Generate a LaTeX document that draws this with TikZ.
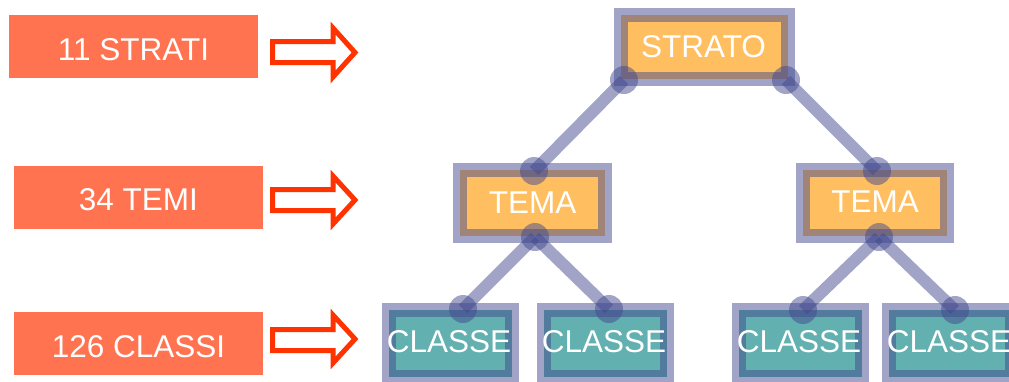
\documentclass[tikz,border=0pt]{standalone}
\usepackage{fontspec}
\setmainfont{Liberation Sans}
\definecolor{coral}{HTML}{FF7350}
\definecolor{arrred}{HTML}{FF3300}
\definecolor{boxorange}{HTML}{FFBF60}
\definecolor{boxteal}{HTML}{63B0B0}
\definecolor{linkpurple}{HTML}{434A8E}
\begin{document}
\begin{tikzpicture}[x=1pt,y=-1pt,
  lbl/.style={fill=coral,inner sep=0pt,minimum width=249pt,minimum height=63pt},
  blockarrow/.style={draw=arrred,fill=white,line width=5pt,line join=miter},
  treebox/.style={draw=linkpurple,draw opacity=0.5,line width=14pt,inner sep=0pt},
  orangebox/.style={treebox,fill=boxorange},
  tealbox/.style={treebox,fill=boxteal},
  txt/.style={text=white,inner sep=0pt,font=\fontsize{31.5}{36}\selectfont},
  link/.style={draw=linkpurple,draw opacity=0.5,line width=12pt},
  joint/.style={circle,fill=linkpurple,fill opacity=0.5,minimum size=28pt,inner sep=0pt}]
\useasboundingbox (0,0) rectangle (1009,381);
% left labels
\node[lbl] (l1) at (133,46) {};
\node[txt] (l1t) at (133.5,49.5) {11 STRATI};
\node[lbl] (l2) at (138.5,197.5) {};
\node[txt] (l2t) at (138.5,200) {34 TEMI};
\node[lbl] (l3) at (138.5,343.5) {};
\node[txt] (l3t) at (138.5,346.5) {126 CLASSI};
% block arrows
\draw[blockarrow] (272.5,41.5) -- (333,41.5) -- (333,28) -- (355,52.5) -- (333,77) -- (333,62.5) -- (272.5,62.5) -- cycle;
\draw[blockarrow] (272.5,189.5) -- (333,189.5) -- (333,176) -- (355,200) -- (333,224) -- (333,210.5) -- (272.5,210.5) -- cycle;
\draw[blockarrow] (272.5,329.5) -- (333,329.5) -- (333,315) -- (355,339) -- (333,363) -- (333,350.5) -- (272.5,350.5) -- cycle;
% tree boxes
\node[orangebox,minimum width=167pt,minimum height=64pt] (strato) at (704.5,47) {};
\node[txt] (stratot) at (703.5,46.5) {STRATO};
\node[orangebox,minimum width=145pt,minimum height=66pt] (temaL) at (532.5,203) {};
\node[txt] (temaLt) at (532.5,203) {TEMA};
\node[orangebox,minimum width=144pt,minimum height=66pt] (temaR) at (875,203) {};
\node[txt] (temaRt) at (875,202) {TEMA};
\node[tealbox,minimum width=123pt,minimum height=67pt] (c1) at (450.5,343.5) {};
\node[txt] (c1t) at (449,341.5) {CLASSE};
\node[tealbox,minimum width=123pt,minimum height=67pt] (c2) at (605.5,343.5) {};
\node[txt] (c2t) at (604,341.5) {CLASSE};
\node[tealbox,minimum width=123pt,minimum height=67pt] (c3) at (800.5,343.5) {};
\node[txt] (c3t) at (799,341.5) {CLASSE};
\node[tealbox,minimum width=123pt,minimum height=67pt] (c4) at (950.5,343.5) {};
\node[txt] (c4t) at (949,341.5) {CLASSE};
% joint positions
\coordinate (jSL) at (624,80);
\coordinate (jSR) at (786,80);
\coordinate (jTLt) at (534,171);
\coordinate (jTLb) at (535,237);
\coordinate (jTRt) at (877,171);
\coordinate (jTRb) at (879,237);
\coordinate (jC1) at (463,309);
\coordinate (jC2) at (609,309);
\coordinate (jC3) at (803,310);
\coordinate (jC4) at (955,310);
% links
\draw[link] (jSL) -- (jTLt);
\draw[link] (jSR) -- (jTRt);
\draw[link] (jTLb) -- (jC1);
\draw[link] (jTLb) -- (jC2);
\draw[link] (jTRb) -- (jC3);
\draw[link] (jTRb) -- (jC4);
% joints
\foreach \j in {jSL,jSR,jTLt,jTLb,jTRt,jTRb,jC1,jC2,jC3,jC4}
  \node[joint] (n\j) at (\j) {};
\end{tikzpicture}
\end{document}
